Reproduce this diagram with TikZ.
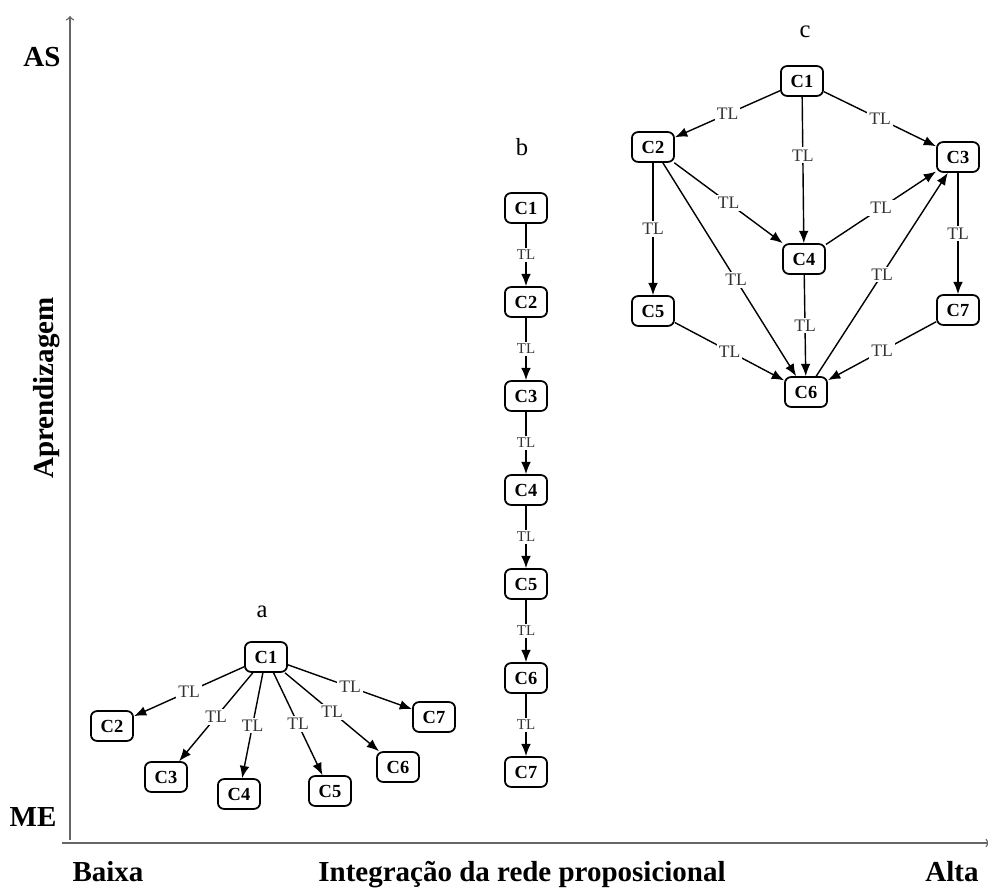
\documentclass[tikz,border=0pt]{standalone}
\usepackage{fontspec}
\setmainfont{Liberation Serif}
\usetikzlibrary{arrows.meta}

\tikzset{
  concept/.style={draw, line width=1pt, rounded corners=3.5pt, fill=white,
    minimum width=24pt, minimum height=17pt, inner sep=1pt,
    font=\bfseries\fontsize{10.5}{12}\selectfont},
  tl/.style={fill=white, inner sep=1.2pt, text=black!80,
    font=\fontsize{10}{11}\selectfont},
  tlsmall/.style={tl, font=\fontsize{8.5}{9}\selectfont},
  link/.style={->, line width=0.8pt},
  axis/.style={line width=0.8pt, black!60},
  axislabel/.style={font=\bfseries\fontsize{16.5}{18}\selectfont},
  graphname/.style={font=\fontsize{14}{15}\selectfont}
}

\begin{document}
\begin{tikzpicture}[x=0.02cm, y=-0.02cm, >={Latex[length=7pt,width=5.5pt]}]
        \useasboundingbox (0,0) rectangle (988,891);
        % axes
        \coordinate (O) at (70,840);
        \coordinate (Ytop) at (70,16);
        \coordinate (Xstart) at (62,843);
        \coordinate (Xend) at (990,843);
        \draw [axis, -to] (O) -- (Ytop);
        \draw [axis, -to] (Xstart) -- (Xend);
        \node [axislabel] (AS) at (42,57) {AS};
        \node [axislabel] (ME) at (33,817) {ME};
        \node [axislabel, rotate=90] (Apr) at (47,388) {Aprendizagem};
        \node [axislabel, anchor=base] (Baixa) at (108,882) {Baixa};
        \node [axislabel, anchor=base] (Integ) at (522,882) {Integração da rede proposicional};
        \node [axislabel, anchor=base] (Alta) at (952,882) {Alta};

        % graph a
        \node [graphname] (na) at (262,612) {a};
        \begin{scope}[every node/.style={concept}]
            \node (a1) at (266,657) {C1};
            \node (a2) at (112,726) {C2};
            \node (a3) at (166,777) {C3};
            \node (a4) at (239,794) {C4};
            \node (a5) at (330,791) {C5};
            \node (a6) at (398,767) {C6};
            \node (a7) at (434,717) {C7};
        \end{scope}
        \draw [link](a1) -- node[tl]{TL} (a2);
        \draw [link](a1) -- node[tl]{TL} (a3);
        \draw [link](a1) -- node[tl]{TL} (a4);
        \draw [link](a1) -- node[tl]{TL} (a5);
        \draw [link](a1) -- node[tl]{TL} (a6);
        \draw [link](a1) -- node[tl]{TL} (a7);

        % graph b
        \node [graphname] (nb) at (522,147) {b};
        \begin{scope}[every node/.style={concept}]
            \node (b1) at (526,208) {C1};
            \node (b2) at (526,302) {C2};
            \node (b3) at (526,396) {C3};
            \node (b4) at (526,490) {C4};
            \node (b5) at (526,584) {C5};
            \node (b6) at (526,678) {C6};
            \node (b7) at (526,772) {C7};
        \end{scope}
        \draw [link](b1) -- node[tlsmall]{TL} (b2);
        \draw [link](b2) -- node[tlsmall]{TL} (b3);
        \draw [link](b3) -- node[tlsmall]{TL} (b4);
        \draw [link](b4) -- node[tlsmall]{TL} (b5);
        \draw [link](b5) -- node[tlsmall]{TL} (b6);
        \draw [link](b6) -- node[tlsmall]{TL} (b7);

        % graph c
        \node [graphname] (nc) at (805,32) {c};
        \begin{scope}[every node/.style={concept}]
            \node (c1) at (802,81) {C1};
            \node (c2) at (653,147) {C2};
            \node (c3) at (958,157) {C3};
            \node (c4) at (804,259) {C4};
            \node (c5) at (653,311) {C5};
            \node (c6) at (806,392) {C6};
            \node (c7) at (958,310) {C7};
        \end{scope}
        \draw [link](c1) -- node[tl]{TL} (c2);
        \draw [link](c1) -- node[tl, pos=0.4]{TL} (c4);
        \draw [link](c1) -- node[tl]{TL} (c3);
        \draw [link](c2) -- node[tl]{TL} (c5);
        \draw [link](c2) -- node[tl]{TL} (c4);
        \draw [link](c2) -- node[tl, pos=0.55]{TL} (c6);
        \draw [link](c4) -- node[tl]{TL} (c3);
        \draw [link](c6) -- node[tl]{TL} (c3);
        \draw [link](c3) -- node[tl]{TL} (c7);
        \draw [link](c4) -- node[tl]{TL} (c6);
        \draw [link](c5) -- node[tl]{TL} (c6);
        \draw [link](c7) -- node[tl]{TL} (c6);
\end{tikzpicture}
\end{document}
